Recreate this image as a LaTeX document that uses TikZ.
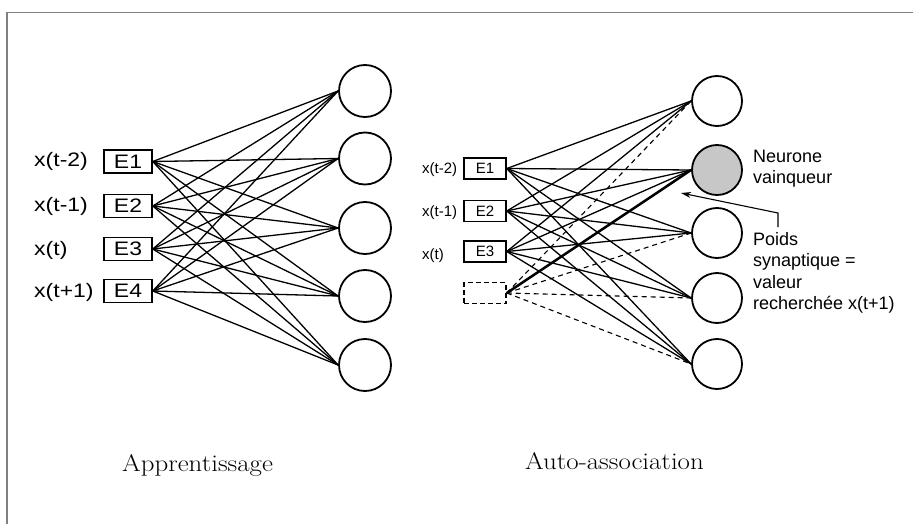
\documentclass[tikz,border=0pt]{standalone}
\usepackage{fontspec}
\newfontfamily\helv{Liberation Sans}
\newfontfamily\helvw[FakeStretch=1.18]{Liberation Sans}
\usetikzlibrary{arrows.meta}
\begin{document}
\begin{tikzpicture}[x=1pt,y=-1pt,
  neuronL/.style={circle,draw,line width=1.8pt,minimum size=52pt,inner sep=0pt},
  neuronR/.style={circle,draw,line width=1.8pt,minimum size=50pt,inner sep=0pt},
  inboxL/.style={rectangle,draw,line width=1.6pt,minimum width=48pt,minimum height=23pt,inner sep=0pt,font=\helvw\fontsize{19.5}{20}\selectfont},
  inboxR/.style={rectangle,draw,line width=1.5pt,minimum width=42pt,minimum height=21pt,inner sep=0pt,font=\helv\fontsize{15}{16}\selectfont},
  lblL/.style={anchor=base west,inner sep=0pt,font=\helvw\fontsize{19.5}{20}\selectfont},
  lblR/.style={anchor=base west,inner sep=0pt,font=\helv\fontsize{15}{16}\selectfont},
  note/.style={anchor=base west,inner sep=0pt,font=\helv\fontsize{18}{20}\selectfont},
  capt/.style={anchor=base west,inner sep=0pt,font=\fontsize{24}{27}\selectfont},
  wire/.style={line width=1.3pt},
  dwire/.style={line width=1.1pt,dash pattern=on 5pt off 4pt},
]
\useasboundingbox (0,0) rectangle (913,524);
\fill[white] (0,0) rectangle (913,524);
\draw[black!50,line width=1.3pt] (7,524) -- (7,12.5) -- (913,12.5);

% ---------- Left network (Apprentissage)
\node[neuronL] (L1) at (365,91) {};
\node[neuronL] (L2) at (365,158.5) {};
\node[neuronL] (L3) at (365,228) {};
\node[neuronL] (L4) at (365,296) {};
\node[neuronL] (L5) at (365,365) {};

\node[inboxL] (E1) at (128,161.5) {E1};
\node[inboxL] (E2) at (128,206) {E2};
\node[inboxL] (E3) at (128,249) {E3};
\node[inboxL] (E4) at (128,291) {E4};

\node[lblL] (lx1) at (34,167) {x(t-2)};
\node[lblL] (lx2) at (34,211.5) {x(t-1)};
\node[lblL] (lx3) at (34,255) {x(t)};
\node[lblL] (lx4) at (34,297) {x(t+1)};

\foreach \e in {E1,E2,E3,E4}
  \foreach \c in {L1,L2,L3,L4,L5}
    \draw[wire] (\e.east) -- (\c.west);

% ---------- Right network (Auto-association)
\node[neuronR] (R1) at (717,101) {};
\node[neuronR,fill=black!22] (R2) at (717,170) {};
\node[neuronR] (R3) at (717,233) {};
\node[neuronR] (R4) at (717,298) {};
\node[neuronR] (R5) at (717,364) {};

\node[inboxR] (F1) at (485,168.5) {E1};
\node[inboxR] (F2) at (485,211) {E2};
\node[inboxR] (F3) at (485,251.5) {E3};
\node[inboxR,dash pattern=on 5pt off 3pt] (F4) at (485,293) {};

\node[lblR] (rx1) at (422,173.5) {x(t-2)};
\node[lblR] (rx2) at (422,216) {x(t-1)};
\node[lblR] (rx3) at (422,259) {x(t)};

\foreach \e in {F1,F2,F3}
  \foreach \c in {R1,R2,R3,R4,R5}
    \draw[wire] (\e.east) -- (\c.west);

\foreach \c in {R1,R3,R4,R5}
  \draw[dwire] (F4.east) -- (\c.west);
\draw[line width=2.5pt] (F4.east) -- (R2.west);

% ---------- Annotations
\node[note] (n1) at (753,162) {Neurone};
\node[note] (n2) at (753,183.5) {vainqueur};

\node[note] (p1) at (753,245) {Poids};
\node[note] (p2) at (753,266.5) {synaptique =};
\node[note] (p3) at (753,288) {valeur};
\node[note] (p4) at (753,309.5) {recherch\'ee x(t+1)};

\coordinate (pstart) at (778,227);
\coordinate (pbend) at (778,213);
\coordinate (ptip) at (681,193);
\draw[line width=1.1pt,-{Stealth[length=10pt,width=6pt]}] (pstart) -- (pbend) -- (ptip);

% ---------- Captions
\node[capt] (c1) at (122,471) {\scalebox{1.12}[1]{Apprentissage}};
\node[capt] (c2) at (525,469) {\scalebox{1.12}[1]{Auto-association}};
\end{tikzpicture}
\end{document}
